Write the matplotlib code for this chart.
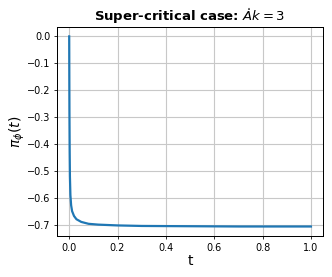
import matplotlib
matplotlib.use("Agg")
import matplotlib.pyplot as plt

t_vals = [0.0, 0.0005, 0.001, 0.002, 0.003, 0.005, 0.008, 0.012, 0.02, 0.03, 0.05, 0.08, 0.12, 0.2, 0.3, 0.5, 0.7, 1.0]
pi_vals = [0.0, -0.15, -0.28, -0.43, -0.52, -0.59, -0.628, -0.650, -0.668, -0.680, -0.690, -0.697, -0.700, -0.703, -0.705, -0.706, -0.707, -0.707]

s = 0.7
plt.rcParams.update({
    "axes.linewidth": 0.8 * s * 1.3,
    "xtick.major.width": 0.8 * s,
    "ytick.major.width": 0.8 * s,
    "xtick.major.size": 3.5 * s,
    "ytick.major.size": 3.5 * s,
    "xtick.major.pad": 3.5 * s,
    "ytick.major.pad": 3.5 * s,
})

fig = plt.figure(figsize=(3.32, 2.77), dpi=100)
ax = fig.add_axes([0.172, 0.148, 0.801, 0.755])
ax.plot(t_vals, pi_vals, color="#1f77b4", linewidth=1.6)
ax.grid(True, color="#c8c8c8", linewidth=0.8)
ax.set_title(r"Super-critical case: $\mathring{A}k = 3$", fontsize=9.5, fontweight="bold", pad=4)
ax.set_xlabel("t", fontsize=10, labelpad=1)
ax.set_ylabel(r"$\pi_\phi(t)$", fontsize=10, labelpad=0)
ax.tick_params(labelsize=7)
fig.savefig("out.png", dpi=100)
